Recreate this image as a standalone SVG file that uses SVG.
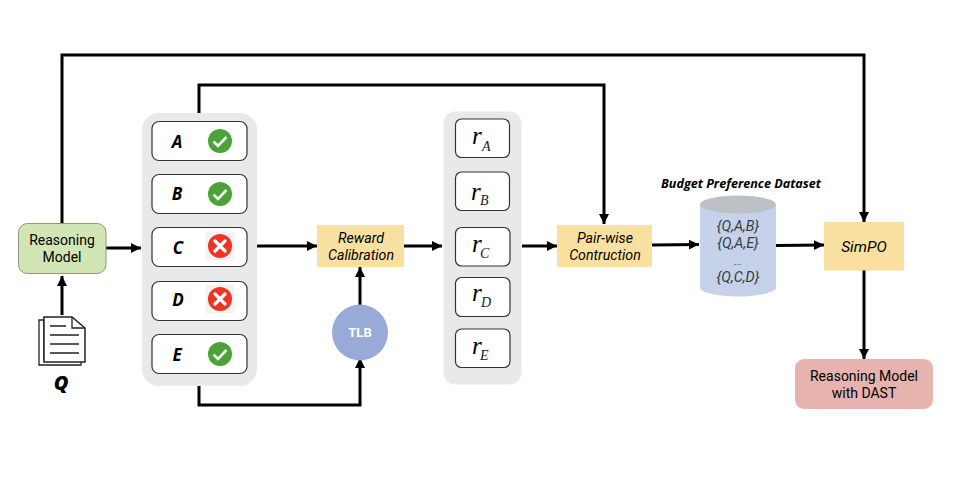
<svg xmlns="http://www.w3.org/2000/svg" width="960" height="482" viewBox="0 0 960 482">
<defs>
<marker id="arr" markerUnits="userSpaceOnUse" markerWidth="12" markerHeight="12" refX="10" refY="6" orient="auto"><path d="M0,1L10,6L0,11z" fill="#000"/></marker>
<g id="ok"><circle cx="0" cy="0" r="12" fill="#4aa238"/><path d="M-6.500,0.500L-2,5L6.500,-4" fill="none" stroke="#f2f7ee" stroke-width="2.600"/></g>
<g id="no"><rect x="-14.500" y="-14.500" width="29" height="29" fill="#f3f3f3"/><circle cx="0" cy="0" r="12" fill="#ee3524"/><path d="M-5,-5L5,5M-5,5L5,-5" fill="none" stroke="#fff" stroke-width="3.200" stroke-linecap="round"/></g>
</defs>
<style>
.c{fill:none;stroke:#000;stroke-width:3}
.a{marker-end:url(#arr)}
.panel{fill:#e9e9e9}
.box{fill:#fff;stroke:#333;stroke-width:1.200}
.y{fill:#fae0a0}
text{font-family:Roboto,"Open Sans",sans-serif;text-anchor:middle;fill:#111}
.i{font-style:italic;font-size:14.200px;font-weight:400;fill:#000}
.l{font-family:"Open Sans",sans-serif;font-style:italic;font-weight:700;font-size:17px;fill:#000}
.r{font-family:"Liberation Serif",serif;font-style:italic;font-size:25px;fill:#000;text-anchor:start}
.s{font-family:"Liberation Serif",serif;font-style:italic;font-size:14px;fill:#222;text-anchor:start}
.n{font-size:14px;font-weight:400;fill:#000}
.d{font-style:italic;font-size:14.400px;fill:#3a3a3a}
</style>
<rect width="960" height="482" fill="#fff"/>
<g id="connectors">
<path class="c a" d="M62,223V55H864V222"/>
<path class="c a" d="M199,113V85H604V224"/>
<path class="c a" d="M106,248H141"/>
<path class="c a" d="M62,315V276"/>
<path class="c a" d="M257,246H317"/>
<path class="c a" d="M360,305V267"/>
<path class="c a" d="M199,386V405H360V358"/>
<path class="c a" d="M404,246H442"/>
<path class="c a" d="M522,246H557"/>
<path class="c a" d="M652,245L699,244.500"/>
<path class="c a" d="M776,245.500L824,245"/>
<path class="c a" d="M864,270V359"/>
</g>
<g id="reasoning-model"><rect x="18.500" y="223.500" width="87.500" height="50" rx="9" fill="#d2e6b5" stroke="#8a9a80" stroke-width="1"/><text class="n" x="62" y="245">Reasoning</text><text class="n" x="62" y="262">Model</text></g>
<g id="doc-q">
<path d="M39,320H44V360H81V365H39z" fill="#fff" stroke="#222" stroke-width="1.300"/>
<path d="M44,317H72L85,328V362H44z" fill="#fff" stroke="#222" stroke-width="1.500"/>
<path d="M72,317V328H85" fill="none" stroke="#222" stroke-width="1.300"/>
<path d="M50,326H66M50,335H79M50,344H79M50,353H79" stroke="#222" stroke-width="1.300"/>
<text x="61" y="390" style="font-family:'Open Sans',sans-serif;font-size:20px;font-weight:800;font-style:italic;fill:#000">Q</text>
</g>
<g id="options">
<rect class="panel" x="142" y="113" width="115" height="273" rx="17"/>
<g id="opt-a"><rect class="box" x="152" y="121.500" width="95" height="39" rx="7"/><text class="l" x="177" y="148">A</text><use href="#ok" x="220" y="141"/></g>
<g id="opt-b"><rect class="box" x="152" y="174.500" width="95" height="39" rx="7"/><text class="l" x="177" y="200">B</text><use href="#ok" x="220" y="194"/></g>
<g id="opt-c"><rect class="box" x="152" y="227.500" width="95" height="39" rx="7"/><text class="l" x="178" y="254">C</text><use href="#no" x="220" y="246"/></g>
<g id="opt-d"><rect class="box" x="152" y="281.500" width="95" height="39" rx="7"/><text class="l" x="178" y="306">D</text><use href="#no" x="220" y="299"/></g>
<g id="opt-e"><rect class="box" x="152" y="334.500" width="95" height="39" rx="7"/><text class="l" x="177" y="361">E</text><use href="#ok" x="220" y="354"/></g>
</g>
<g id="reward-calibration"><rect class="y" x="317" y="225" width="87" height="42"/><text class="i" x="361" y="243">Reward</text><text class="i" x="361" y="260">Calibration</text></g>
<g id="tlb"><circle cx="360" cy="332.500" r="28" fill="#98abd8"/><text x="360" y="337" style="font-size:13px;font-weight:700;fill:#fff">TLB</text></g>
<g id="rewards">
<rect class="panel" x="443.500" y="111.500" width="78" height="273" rx="12"/>
<g id="r-a"><rect class="box" x="455.500" y="119" width="54" height="38.500" rx="6"/><text class="r" x="472" y="144">r</text><text class="s" x="482" y="151">A</text></g>
<g id="r-b"><rect class="box" x="455.500" y="172" width="54" height="38.500" rx="6"/><text class="r" x="471" y="200">r</text><text class="s" x="480" y="205">B</text></g>
<g id="r-c"><rect class="box" x="455.500" y="227.500" width="54.500" height="38.500" rx="6"/><text class="r" x="472" y="252">r</text><text class="s" x="480" y="258">C</text></g>
<g id="r-d"><rect class="box" x="455.500" y="277.500" width="54.500" height="39" rx="6"/><text class="r" x="472" y="301">r</text><text class="s" x="481" y="307">D</text></g>
<g id="r-e"><rect class="box" x="455.500" y="329" width="54.500" height="38.500" rx="6"/><text class="r" x="472" y="354">r</text><text class="s" x="480" y="360">E</text></g>
</g>
<g id="pair-wise"><rect class="y" x="557" y="225" width="95" height="42"/><text class="i" x="605" y="243">Pair-wise</text><text class="i" x="605" y="260">Contruction</text></g>
<g id="dataset">
<text x="741" y="188" style="font-family:'Open Sans',sans-serif;font-size:12.600px;font-weight:700;font-style:italic;fill:#000">Budget Preference Dataset</text>
<path d="M700,204V288C700,293 722,296.500 738,296.500C754,296.500 776,293 776,288V204z" fill="#c6d1ea"/>
<ellipse cx="738" cy="204.500" rx="38" ry="9" fill="#bdbfc6"/>
<text class="d" x="738" y="231">{Q,A,B}</text><text class="d" x="738" y="248">{Q,A,E}</text><text x="738" y="265" style="font-size:10px;font-style:italic;fill:#3a3a3a">...</text><text class="d" x="738" y="281.500">{Q,C,D}</text>
</g>
<g id="simpo"><rect class="y" x="824" y="222" width="80" height="48.500"/><text x="864" y="252" style="font-style:italic;font-size:15.500px;font-weight:400;fill:#000">SimPO</text></g>
<g id="reasoning-dast"><rect x="795" y="359" width="138" height="50" rx="9" fill="#e6b3ae"/><text class="n" x="864" y="381">Reasoning Model</text><text class="n" x="864" y="398">with DAST</text></g>
</svg>
